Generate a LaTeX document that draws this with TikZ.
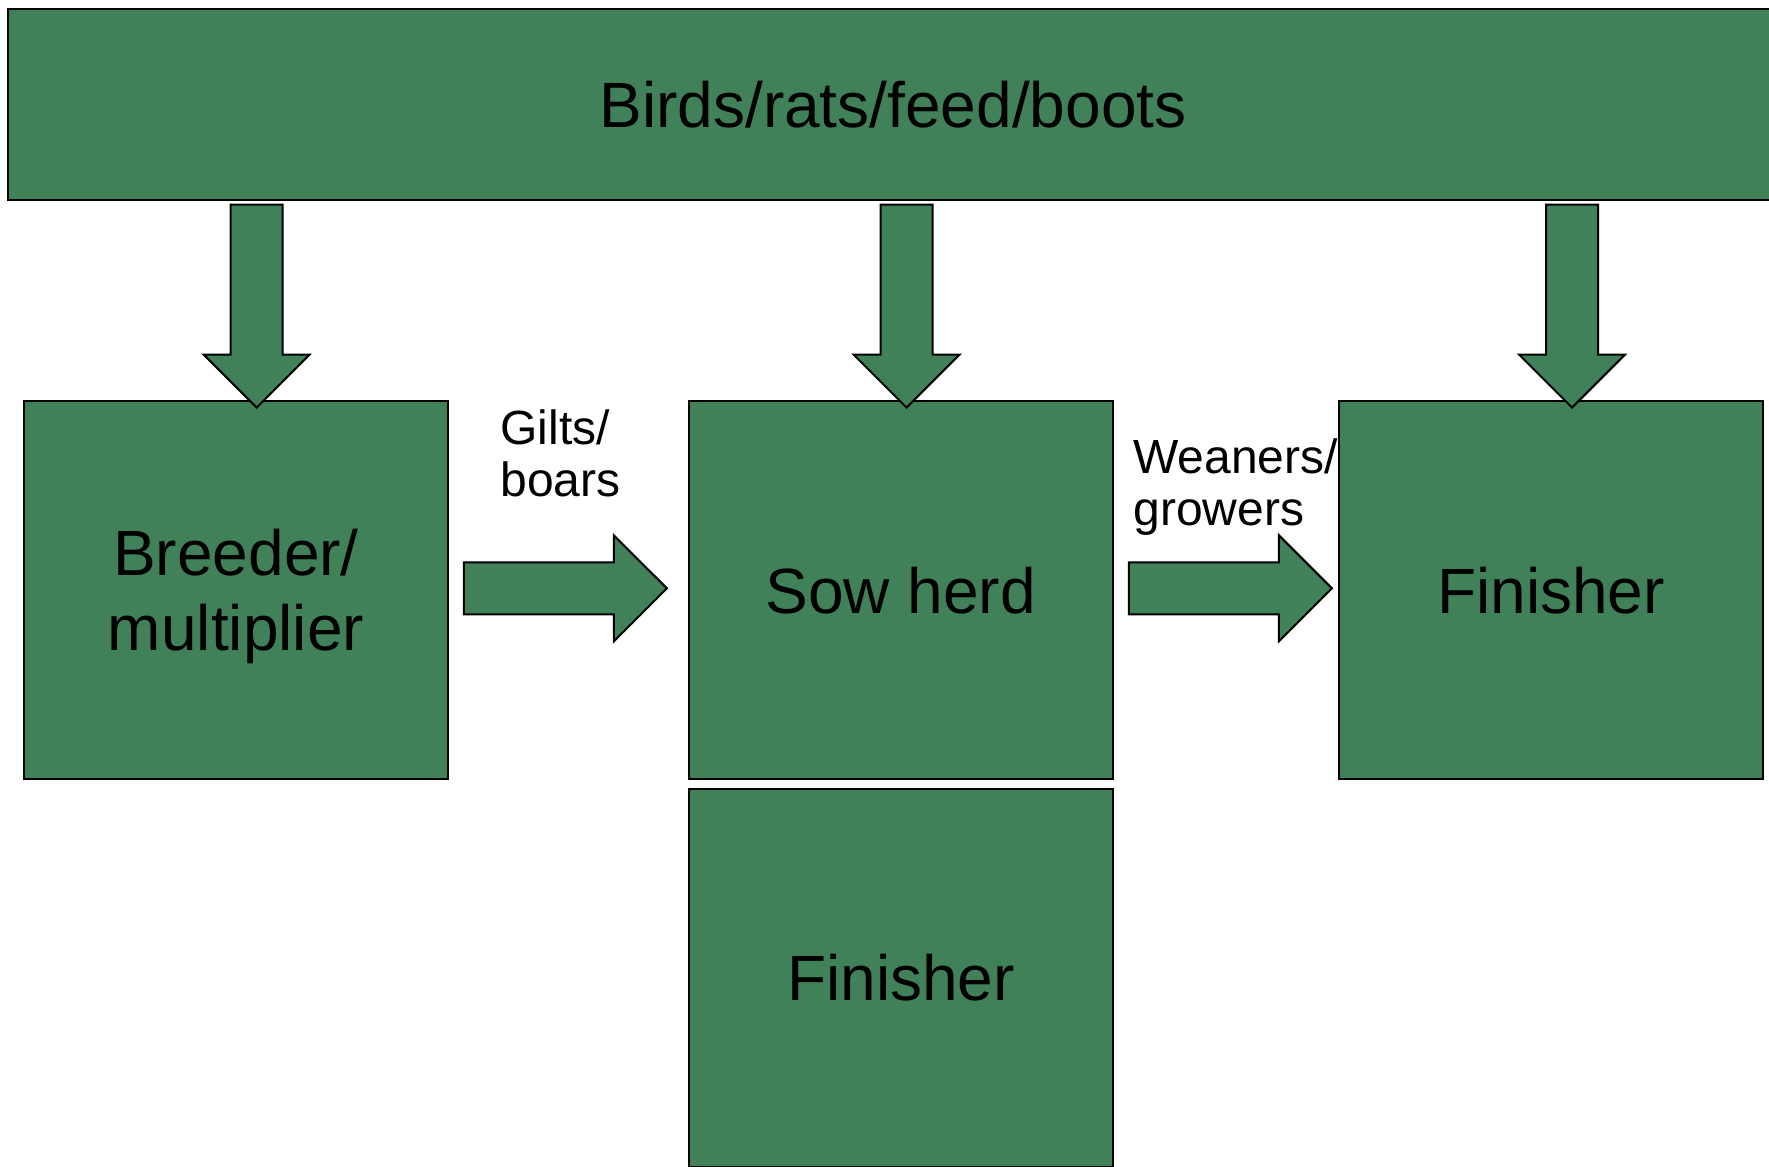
\documentclass[tikz,border=0pt]{standalone}
\usepackage{fontspec}
\setmainfont{Liberation Sans}
\usetikzlibrary{shapes.arrows}
\definecolor{pigGreen}{RGB}{65,129,89}
\tikzstyle{stage}=[rectangle,draw=black,fill=pigGreen,line width=1pt,inner sep=0pt,
    minimum width=212pt,minimum height=189pt,align=center,text depth=0pt,
    font=\fontsize{32}{37.5}\selectfont]
\tikzstyle{block arrow}=[single arrow,draw=black,fill=pigGreen,line width=1pt,inner sep=12.5pt,
    minimum height=101.5pt,minimum width=52pt,single arrow head extend=13.5pt,single arrow tip angle=90,
    anchor=tip]
\tikzstyle{block down}=[block arrow,shape border rotate=270]
\tikzstyle{flow label}=[anchor=base west,align=left,inner sep=0pt,
    font=\fontsize{24}{26}\selectfont]

\begin{document}
\begin{tikzpicture}[x=0.5pt,y=-0.5pt]
    \useasboundingbox (0,0) rectangle (1769,1167);
    \node[stage,minimum width=884.75pt,minimum height=95.75pt] (risks) at (893,104.25) {Birds/rats/feed/boots};
    \node[stage] (breeder) at (236,590) {Breeder/\\multiplier};
    \node[stage] (sowherd) at (900.8,590) {Sow herd};
    \node[stage] (finisherA) at (1551,590) {Finisher};
    \node[stage] (finisherB) at (901,977.5) {Finisher};
    \foreach \x/\name in {256.7/downA, 906.5/downB, 1572/downC}
        \node[block down] (\name) at (\x,409) {};
    \foreach \x/\name in {668.3/giltsArrow, 1333.3/weanersArrow}
        \node[block arrow] (\name) at (\x,588.3) {};
    \node[flow label] (gilts) at (500,496.7) {Gilts/\\boars};
    \node[flow label] (weaners) at (1133,525) {Weaners/\\growers};
\end{tikzpicture}
\end{document}
